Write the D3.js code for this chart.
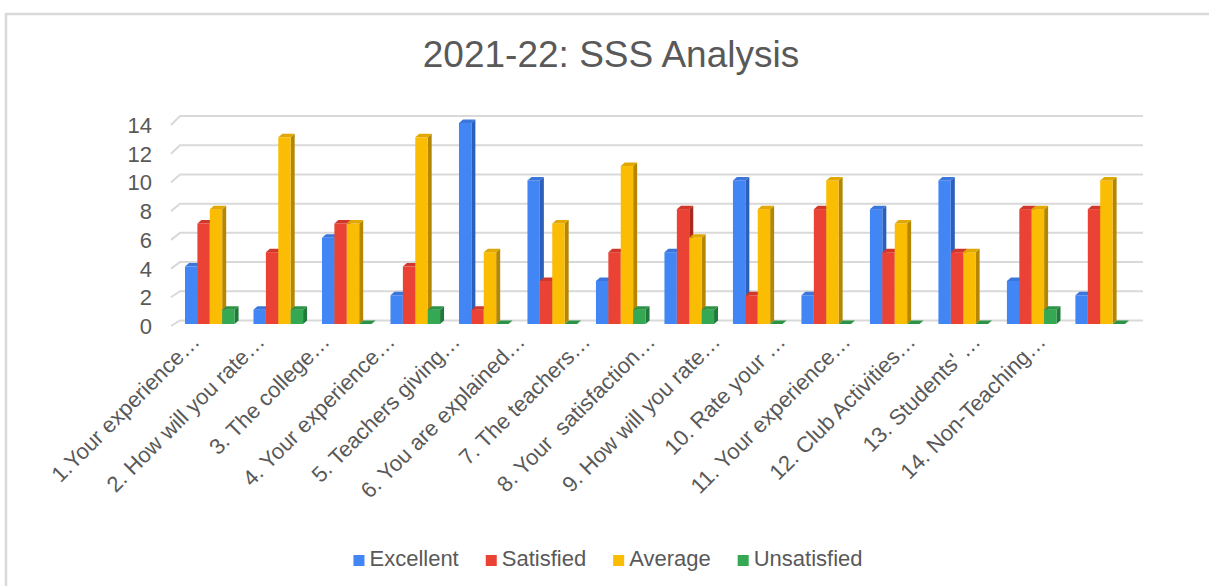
<!DOCTYPE html>
<html>
<head>
<meta charset="utf-8">
<script src="https://cdn.jsdelivr.net/npm/d3@7"></script>
<style>
  body { margin: 0; background: #fff; }
  svg { display: block; font-family: "Liberation Sans", Arial, sans-serif; }
  .lbl { white-space: pre; }
</style>
</head>
<body>
<svg id="chart" width="1209" height="586"></svg>
<script>
const categories = [
    "1.Your experience…", "2. How will you rate…", "3. The college…",
    "4. Your experience…", "5. Teachers giving…", "6. You are explained…",
    "7. The teachers…", "8. Your  satisfaction…", "9. How will you rate…",
    "10. Rate your …", "11. Your experience…", "12. Club Activities…",
    "13. Students' …", "14. Non-Teaching…"
];
const seriesNames = ["Excellent", "Satisfied", "Average", "Unsatisfied"];
const excellent   = [4, 1, 6, 2, 14, 10, 3, 5, 10, 2, 8, 10, 3, 2];
const satisfied   = [7, 5, 7, 4, 1, 3, 5, 8, 2, 8, 5, 5, 8, 8];
const average     = [8, 13, 7, 13, 5, 7, 11, 6, 8, 10, 7, 5, 8, 10];
const unsatisfied = [1, 1, 0, 1, 0, 0, 1, 1, 0, 0, 0, 0, 1, 0];
const yTicks = [0, 2, 4, 6, 8, 10, 12, 14];

const seriesValues = [excellent, satisfied, average, unsatisfied];
const colors = {
    Excellent:   { front: "#4285f4", side: "#2c5fb9", top: "#3a76dc" },
    Satisfied:   { front: "#ea4335", side: "#a8281d", top: "#d1372a" },
    Average:     { front: "#fbbc04", side: "#b58600", top: "#e0a800" },
    Unsatisfied: { front: "#34a853", side: "#217a39", top: "#2d9447" }
};

const svg = d3.select("#chart");
const textColor = "#595959";
const dx = 4, dy = 3.5; // bar depth offsets

// frame
svg.append("rect")
    .attr("x", 6).attr("y", 14)
    .attr("width", 1220).attr("height", 600)
    .attr("fill", "none")
    .attr("stroke", "#d9d9d9")
    .attr("stroke-width", 2.5);

// title
svg.append("text")
    .attr("x", 611).attr("y", 67)
    .attr("text-anchor", "middle")
    .attr("font-size", 37)
    .attr("fill", textColor)
    .text("2021-22: SSS Analysis");

// scales
const x = d3.scaleBand().domain(categories).range([185, 1125]).paddingInner(0.276).paddingOuter(0);
const xSub = d3.scaleBand().domain(seriesNames).range([0, x.bandwidth()]);
const y = d3.scaleLinear().domain([0, 14]).range([324, 123]);
const yBack = d3.scaleLinear().domain([0, 14]).range([320.5, 116]);
const xLabel = d3.scalePoint().domain(categories).range([201, 1047]);

// gridlines (3D wall)
const grid = svg.append("g").attr("stroke", "#d9d9d9").attr("stroke-width", 2).attr("fill", "none");
yTicks.forEach(t => {
    grid.append("path")
        .attr("d", `M171,${y(t) + 2} L180,${yBack(t)} L1143,${yBack(t)}`);
});

// y tick labels
svg.append("g").selectAll("text")
    .data(yTicks)
    .join("text")
    .attr("x", 152)
    .attr("y", d => y(d) + 10)
    .attr("text-anchor", "end")
    .attr("font-size", 22)
    .attr("fill", textColor)
    .text(d => d);

// bars
const bars = svg.append("g");
categories.forEach((cat, i) => {
    seriesNames.forEach((name, s) => {
        const v = seriesValues[s][i];
        const x0 = x(cat) + xSub(name);
        const w = xSub.bandwidth();
        const yv = y(v), y0 = y(0);
        const c = colors[name];
        const g = bars.append("g");
        // side
        g.append("path")
            .attr("d", `M${x0 + w},${yv} L${x0 + w + dx},${yv - dy} L${x0 + w + dx},${y0 - dy} L${x0 + w},${y0} Z`)
            .attr("fill", c.side);
        // front
        if (v > 0) {
            g.append("rect")
                .attr("x", x0).attr("y", yv)
                .attr("width", w).attr("height", y0 - yv)
                .attr("fill", c.front);
        }
        // top
        g.append("path")
            .attr("d", `M${x0},${yv} L${x0 + dx},${yv - dy} L${x0 + w + dx},${yv - dy} L${x0 + w},${yv} Z`)
            .attr("fill", c.top);
    });
});

// category labels
svg.append("g").selectAll("text")
    .data(categories)
    .join("text")
    .attr("class", "lbl")
    .attr("transform", d => `translate(${xLabel(d)},343) rotate(-45)`)
    .attr("text-anchor", "end")
    .attr("font-size", 22)
    .attr("fill", textColor)
    .text(d => d);

// legend
const legend = svg.append("g");
const itemGap = 27;
let lx = 0;
seriesNames.forEach(name => {
    const item = legend.append("g").attr("transform", `translate(${lx},0)`);
    item.append("rect")
        .attr("x", 0).attr("y", -11)
        .attr("width", 11).attr("height", 11)
        .attr("fill", colors[name].front);
    const t = item.append("text")
        .attr("x", 16).attr("y", 0)
        .attr("font-size", 22)
        .attr("fill", textColor)
        .text(name);
    lx += 16 + t.node().getComputedTextLength() + itemGap;
});
const legendWidth = lx - itemGap;
legend.attr("transform", `translate(${608 - legendWidth / 2},566)`);
</script>
</body>
</html>
